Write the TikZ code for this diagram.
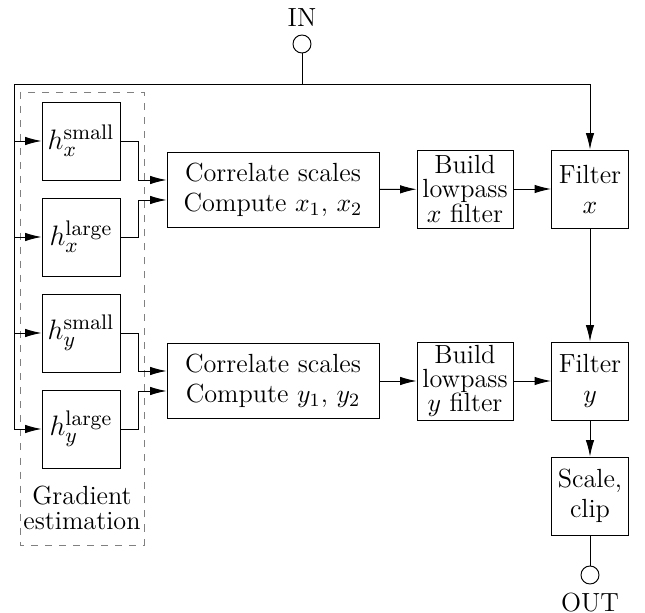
\documentclass[tikz,border=0pt]{standalone}
\usetikzlibrary{positioning,arrows.meta}
\tikzset{
  block/.style={draw, align=center, inner sep=1pt},
  hbox/.style={block, minimum width=1.17cm, minimum height=1.17cm, font=\fontsize{12.5}{14}\selectfont},
  corr/.style={block, minimum width=3.18cm, minimum height=1.125cm},
  build/.style={block, minimum width=1.44cm, minimum height=1.17cm, inner sep=0pt, font=\fontsize{11.2}{10.4}\selectfont},
  filt/.style={block, minimum width=1.155cm, minimum height=1.17cm},
  port/.style={draw, circle, minimum size=0.27cm, inner sep=0pt},
}
\begin{document}
\begin{tikzpicture}[x=0.015cm, y=-0.015cm, >={Latex[length=7pt,width=3.6pt]},
  font=\fontsize{11.2}{12.8}\selectfont]
  \useasboundingbox (0,0) rectangle (645,613);

  % input / output
  \node[port] (in) at (302,44) {};
  \node[above=0pt of in] (inlbl) {IN};
  \node[port] (out) at (590,575) {};
  \node[below=0pt of out] (outlbl) {OUT};

  % gradient estimation
  \draw[gray, dashed] (20,92) rectangle (144,545);
  \node[hbox] (hxs) at (81,141) {$h_x^{\mathrm{small}}$};
  \node[hbox] (hxl) at (81,237) {$h_x^{\mathrm{large}}$};
  \node[hbox] (hys) at (81,333) {$h_y^{\mathrm{small}}$};
  \node[hbox] (hyl) at (81,429) {$h_y^{\mathrm{large}}$};
  \node[align=center, font=\fontsize{11.2}{10.8}\selectfont] (grad) at (82,508) {Gradient\\estimation};

  % processing
  \node[corr] (cx) at (273,190) {Correlate scales\\Compute $x_1$, $x_2$};
  \node[corr] (cy) at (273,381) {Correlate scales\\Compute $y_1$, $y_2$};
  \node[build] (bx) at (465,189) {Build\\lowpass\\$x$ filter};
  \node[build] (by) at (465,381) {Build\\lowpass\\$y$ filter};
  \node[filt] (fx) at (590,189) {Filter\\$x$};
  \node[filt] (fy) at (590,381) {Filter\\$y$};
  \node[filt] (sc) at (590,496) {Scale,\\clip};

  % distribution of the input
  \coordinate (tap) at (302,84);
  \coordinate (tl) at (14,84);
  \coordinate (tr) at (590,84);
  \draw (in) -- (tap);
  \draw[->] (tl |- hyl.west) -- (tl) -- (tr) -- (fx);
  \foreach \h in {hxs,hxl,hys} {
    \draw[->] (tl |- \h.west) -- (\h);
  }
  \draw[->] (tl |- hyl.west) -- (hyl);

  % gradient outputs
  \draw[->] (hxs.east) -- +(18,0) |- ([yshift=0.15cm]cx.west);
  \draw[->] (hxl.east) -- +(18,0) |- ([yshift=-0.15cm]cx.west);
  \draw[->] (hys.east) -- +(18,0) |- ([yshift=0.15cm]cy.west);
  \draw[->] (hyl.east) -- +(18,0) |- ([yshift=-0.15cm]cy.west);

  % chain
  \draw[->] (cx) -- (bx);
  \draw[->] (bx) -- (fx);
  \draw[->] (cy) -- (by);
  \draw[->] (by) -- (fy);
  \draw[->] (fx) -- (fy);
  \draw[->] (fy) -- (sc);
  \draw (sc) -- (out);
\end{tikzpicture}
\end{document}
